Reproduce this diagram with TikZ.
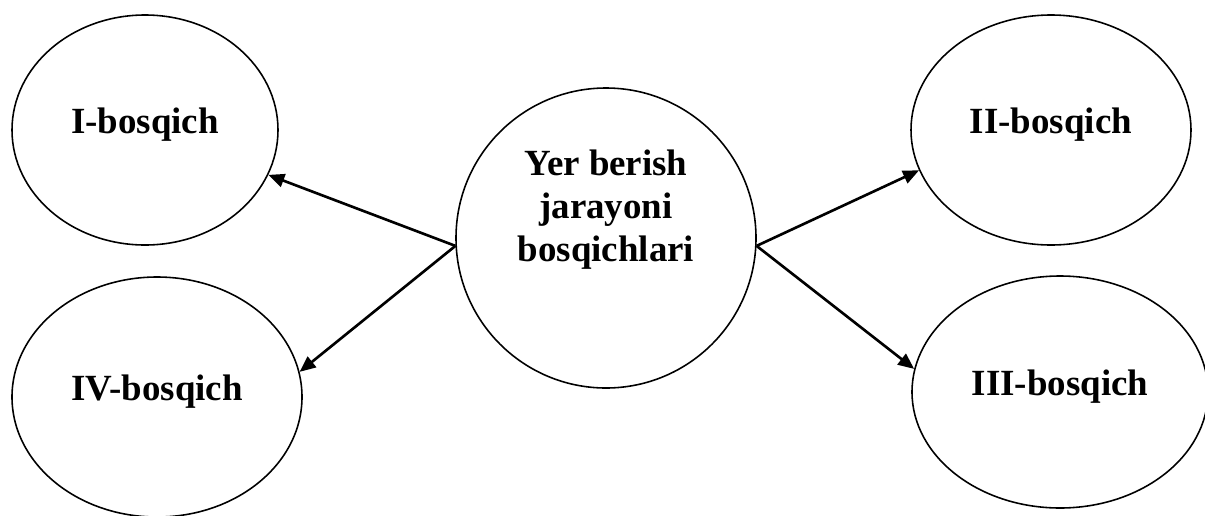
\documentclass[tikz,border=0pt]{standalone}
\usepackage{fontspec}
\setmainfont{Liberation Serif}
\usetikzlibrary{arrows.meta, positioning, shapes.geometric}

\begin{document}
\begin{tikzpicture}[
    stage/.style={ellipse, draw=black, line width=0.9pt, inner sep=0pt},
    lbl/.style={font=\fontsize{21}{24.5}\selectfont\bfseries, align=center, inner sep=0pt},
    arr/.style={-{Triangle[length=0.32cm, width=0.27cm]}, line width=1.5pt}
  ]
    \useasboundingbox (0,0) rectangle (24.1,-10.3);

    \node[circle, draw=black, line width=0.9pt, minimum size=6.0cm, inner sep=0pt,
          label={[lbl, yshift=0.56cm]center:Yer berish\\jarayoni\\bosqichlari}] (main) at (12.12,-4.76) {};

    \node[stage, minimum width=5.32cm, minimum height=4.6cm,
          label={[lbl, yshift=0.1cm]center:I-bosqich}] (st1) at (2.90,-2.60) {};
    \node[stage, minimum width=5.6cm, minimum height=4.6cm,
          label={[lbl, yshift=0.1cm]center:II-bosqich}] (st2) at (21.02,-2.60) {};
    \node[stage, minimum width=5.92cm, minimum height=4.64cm,
          label={[lbl, yshift=0.1cm]center:III-bosqich}] (st3) at (21.20,-7.84) {};
    \node[stage, minimum width=5.8cm, minimum height=4.8cm,
          label={[lbl, yshift=0.1cm]center:IV-bosqich}] (st4) at (3.14,-7.94) {};

    \draw[arr] (main.183) -- (st1.-20);
    \draw[arr] (main.183) -- (st4.10);
    \draw[arr] (main.-3) -- (st2.197);
    \draw[arr] (main.-3) -- (st3.171);
  \end{tikzpicture}
\end{document}
